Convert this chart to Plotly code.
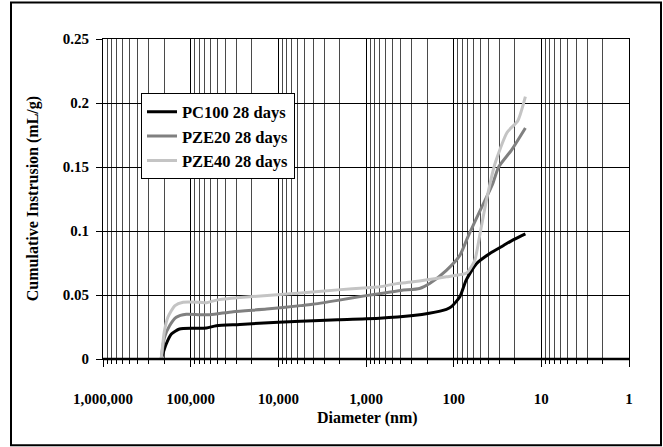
import plotly.graph_objects as go

# ---- data ----
pc100_d = [216800, 190000, 166000, 134000, 94000, 66000, 51000, 27500, 10000, 5600, 2100,
           700, 290, 190, 121, 106, 85, 72, 55, 39, 27, 21, 15.2]
pc100_v = [0.0, 0.0117, 0.0195, 0.0234, 0.0240, 0.0242, 0.0260, 0.0270, 0.0288, 0.0294, 0.0307,
           0.0318, 0.0339, 0.0357, 0.0388, 0.0409, 0.0486, 0.0616, 0.0745, 0.0823, 0.0887, 0.0931, 0.0978]

pze20_d = [216800, 199000, 174000, 146000, 112000, 79000, 60000, 32700, 13600, 5600, 4100, 2100,
           955, 400, 245, 188, 121, 85, 69, 50, 36, 30.7, 22, 15.2]
pze20_v = [0.0, 0.017, 0.026, 0.0326, 0.035, 0.0346, 0.0346, 0.037, 0.039, 0.0417, 0.0427, 0.0458,
           0.0497, 0.0536, 0.0551, 0.059, 0.0693, 0.081, 0.0952, 0.1159, 0.1366, 0.150, 0.163, 0.1805]

pze40_d = [216800, 199000, 182000, 151000, 122000, 79000, 66000, 51000, 27500, 5600, 2100, 955,
           700, 447, 290, 121, 74, 69, 57.5, 50, 42.4, 34, 24.6, 18.6, 15.2]
pze40_v = [0.0, 0.022, 0.0326, 0.0417, 0.0443, 0.0443, 0.0440, 0.046, 0.048, 0.0516, 0.054, 0.0557,
           0.0564, 0.0589, 0.0603, 0.0642, 0.0667, 0.068, 0.077, 0.098, 0.1236, 0.152, 0.177, 0.186, 0.205]

series_names = ["PC100 28 days", "PZE20 28 days", "PZE40 28 days"]
series_colors = ["#000000", "#808080", "#c4c4c4"]

x_tickvals = [1000000, 100000, 10000, 1000, 100, 10, 1]
x_ticktext = ["1,000,000", "100,000", "10,000", "1,000", "100", "10", "1"]
y_tickvals = [0, 0.05, 0.1, 0.15, 0.2, 0.25]
y_ticktext = ["0", "0.05", "0.1", "0.15", "0.2", "0.25"]

FONT = "Liberation Serif"
W, H = 663, 447
L, R, T, B = 103, 629, 38.5, 359
pw, ph = R - L, B - T

fig = go.Figure()
for d, v, n, c in zip([pc100_d, pze20_d, pze40_d], [pc100_v, pze20_v, pze40_v], series_names, series_colors):
    fig.add_trace(go.Scatter(x=d, y=v, name=n, mode="lines",
                             line=dict(color=c, width=3, shape="spline", smoothing=0.6)))

def px_x(p):
    return (p - L) / pw

def px_y(p):
    return 1 - (p - T) / ph

fig.update_layout(
    width=W, height=H,
    margin=dict(l=L, r=W - R, t=T, b=H - B),
    paper_bgcolor="white", plot_bgcolor="white",
    font=dict(family=FONT, color="black", size=15),
    showlegend=True,
    legend=dict(x=px_x(141), y=px_y(93), xanchor="left", yanchor="top",
                bgcolor="white", bordercolor="black", borderwidth=1,
                font=dict(family=FONT, size=16.5, color="black", weight="bold"),
                itemwidth=30, tracegroupgap=0),
    xaxis=dict(type="log", range=[6, 0], autorange=False,
               tickvals=x_tickvals, ticktext=x_ticktext,
               tickfont=dict(family=FONT, size=15, weight="bold"),
               ticks="outside", ticklen=7, tickcolor="black", tickwidth=1,
               ticklabelstandoff=19,
               showgrid=True, gridcolor="black", gridwidth=1,
               showline=True, linecolor="black", linewidth=1, mirror=True,
               zeroline=False,
               minor=dict(dtick="D1", ticks="outside", ticklen=4, tickcolor="black",
                          showgrid=True, gridcolor="#4a4a4a", gridwidth=1)),
    yaxis=dict(range=[0, 0.25], autorange=False,
               tickvals=y_tickvals, ticktext=y_ticktext,
               tickfont=dict(family=FONT, size=15, weight="bold"),
               ticks="outside", ticklen=6, tickcolor="black",
               ticklabelstandoff=4,
               showgrid=True, gridcolor="black", gridwidth=1,
               showline=True, linecolor="black", linewidth=1, mirror=True,
               zeroline=False),
    annotations=[
        dict(text="Diameter (nm)", xref="paper", yref="paper", x=px_x(367), y=px_y(418),
             xanchor="center", yanchor="middle", showarrow=False,
             font=dict(family=FONT, size=16, weight="bold")),
        dict(text="Cumulative Instrusion (mL/g)", xref="paper", yref="paper", x=px_x(33), y=px_y(199),
             xanchor="center", yanchor="middle", textangle=-90, showarrow=False,
             font=dict(family=FONT, size=16, weight="bold")),
    ],
    shapes=[
        dict(type="line", xref="paper", yref="paper", x0=0, x1=1, y0=0, y1=0,
             line=dict(color="black", width=2.5)),
        dict(type="rect", xref="paper", yref="paper",
             x0=px_x(11), x1=px_x(661), y0=px_y(445.5), y1=px_y(2),
             line=dict(color="black", width=2), fillcolor="rgba(0,0,0,0)", layer="above"),
    ],
)

fig.write_html("out.html")
